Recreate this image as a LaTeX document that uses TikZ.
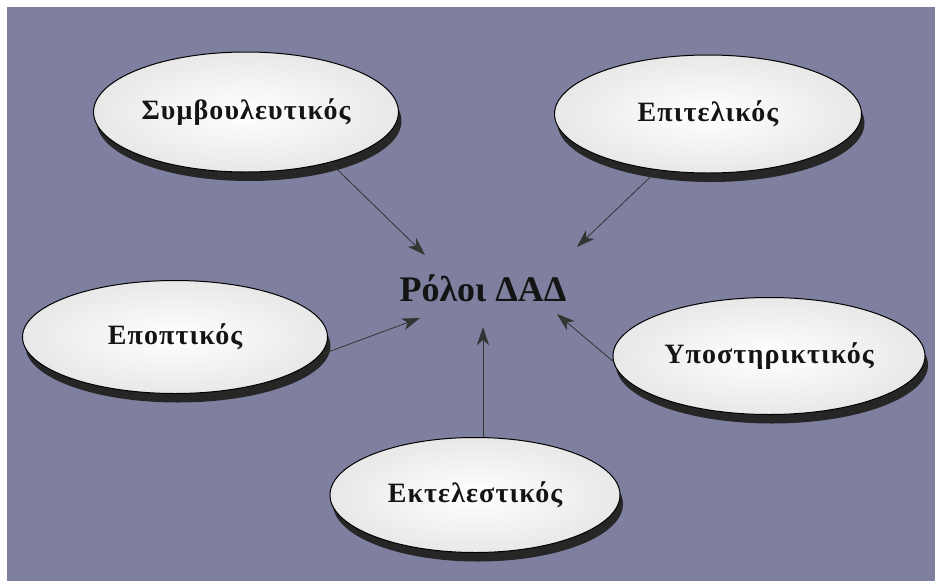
\documentclass[tikz,border=0pt]{standalone}
\usepackage{fontspec}
\setmainfont{Liberation Serif}
\newfontfamily\lblfont[LetterSpace=4]{Liberation Serif}
\usetikzlibrary{shapes.geometric,shadows,arrows.meta}
\definecolor{bgblue}{RGB}{127,128,160}
\definecolor{arrowgray}{RGB}{50,54,50}
\begin{document}
\begin{tikzpicture}[x=1pt,y=-1pt,
  disc/.style={ellipse, draw=black, line width=1pt, inner color=white, outer color=black!9,
    font=\lblfont\bfseries\fontsize{28}{32}\selectfont, text=black!92,
    drop shadow={shadow xshift=3pt, shadow yshift=-9pt, fill=black!85, opacity=1}},
  hubtext/.style={font=\bfseries\fontsize{36}{42}\selectfont, text=black!92},
  conn/.style={draw=arrowgray, line width=0.8pt, -{Stealth[length=18pt,width=12pt,inset=5pt,fill=arrowgray]}}]
\fill[white] (0,0) rectangle (935,581);
\fill[bgblue] (7,7) rectangle (935,581);
\useasboundingbox (0,0) rectangle (935,581);

\node[disc, minimum width=292pt, minimum height=120pt] (symv) at (246,112) {Συμβουλευτικός};
\node[disc, minimum width=307pt, minimum height=118pt] (epit) at (708,114) {Επιτελικός};
\node[disc, minimum width=305pt, minimum height=113pt] (epop) at (175,337) {Εποπτικός};
\node[disc, minimum width=312pt, minimum height=117pt] (ypos) at (769,356) {Υποστηρικτικός};
\node[disc, minimum width=290pt, minimum height=115pt] (ekt) at (475,495) {Εκτελεστικός};

\node[hubtext] (hub) at (483,288) {Ρόλοι ΔΑΔ};

\coordinate (t1) at (425,255);
\coordinate (t2) at (577,247);
\coordinate (t3) at (420,318);
\coordinate (t4) at (557,314);
\coordinate (t5) at (483,327);

\draw[conn] (symv.-31) -- (t1);
\draw[conn] (epit.-132) -- (t2);
\draw[conn] (epop.-7) -- (t3);
\draw[conn] (ypos.182) -- (t4);
\draw[conn] (ekt.north -| t5) -- (t5);
\end{tikzpicture}
\end{document}
